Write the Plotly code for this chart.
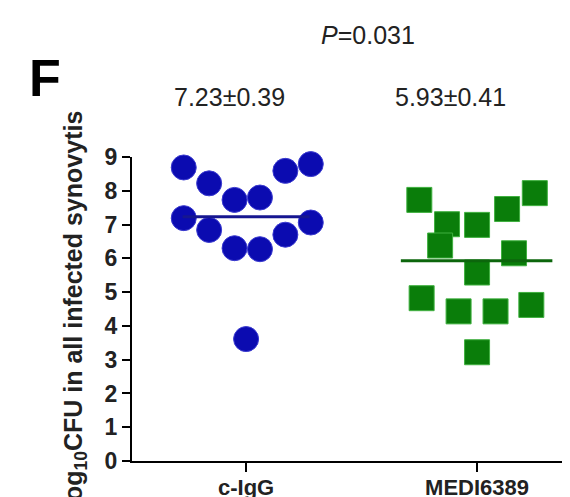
import plotly.graph_objects as go

# ---- data ----
categories = ["c-IgG", "MEDI6389"]
cigg_values = [8.69, 8.22, 7.73, 7.80, 8.59, 8.79, 7.19, 6.84, 6.30, 6.27, 6.70, 7.06, 3.61]
cigg_jitter = [-0.27, -0.16, -0.05, 0.06, 0.17, 0.28, -0.27, -0.16, -0.05, 0.06, 0.17, 0.28, 0.0]
medi_values = [7.73, 7.01, 6.38, 6.99, 7.46, 7.93, 6.15, 5.58, 4.82, 4.43, 4.43, 4.62, 3.22]
medi_jitter = [-0.25, -0.13, -0.16, 0.0, 0.13, 0.25, 0.16, 0.0, -0.24, -0.08, 0.08, 0.235, 0.0]
means = [7.23, 5.93]
sems = [0.39, 0.41]
p_value = "0.031"
y_ticks = [0, 1, 2, 3, 4, 5, 6, 7, 8, 9]

W, H = 570, 497
L, R, T, B = 124, 0, 149, 44
FONT = "Liberation Sans, Arial, sans-serif"

fig = go.Figure()

fig.add_trace(go.Scatter(
    x=[0 + j for j in cigg_jitter], y=cigg_values, mode="markers",
    marker=dict(symbol="circle", size=25, color="#0b0bb0",
                line=dict(color="#3a3ad0", width=1)),
    cliponaxis=False, showlegend=False))
fig.add_trace(go.Scatter(
    x=[1 + j for j in medi_jitter], y=medi_values, mode="markers",
    marker=dict(symbol="square", size=25, color="#0a7d0a",
                line=dict(color="#3fb03f", width=1)),
    cliponaxis=False, showlegend=False))

# mean lines
fig.add_trace(go.Scatter(x=[-0.275, 0.275], y=[means[0], means[0]], mode="lines",
                         line=dict(color="#161690", width=3), showlegend=False))
fig.add_trace(go.Scatter(x=[1 - 0.33, 1 + 0.326], y=[means[1], means[1]], mode="lines",
                         line=dict(color="#0c660c", width=3), showlegend=False))

fig.update_xaxes(
    range=[-0.494, 1.437], tickvals=[0, 1], ticktext=categories,
    showline=True, linecolor="black", linewidth=2,
    ticks="outside", ticklen=9, tickwidth=2, tickcolor="black",
    tickfont=dict(family=FONT, size=22, color="#222", weight="bold"),
    ticklabelstandoff=-3, automargin=False,
    showgrid=False, zeroline=False)
fig.update_yaxes(
    range=[0, 9], tickvals=y_ticks,
    showline=True, linecolor="black", linewidth=2,
    ticks="outside", ticklen=8, tickwidth=2, tickcolor="black",
    tickfont=dict(family=FONT, size=23, color="#222", weight="bold"),
    ticklabelstandoff=0, automargin=False,
    showgrid=False, zeroline=False)

pw = W - L - R
ph = H - T - B
def px(xp):
    return (xp - L) / pw
def py(yp):
    return (H - B - yp) / ph

ann = [
    dict(text="<b>F</b>", x=px(37), y=py(70), font=dict(size=52, family=FONT, color="black")),
    dict(text="log<sub>10</sub>CFU in all infected synovytis", x=px(67), y=py(302), textangle=-90,
         font=dict(size=25, family=FONT, color="#222", weight="bold")),
    dict(text="%.2f±%.2f" % (means[0], sems[0]), x=px(221), y=py(89),
         font=dict(size=25, family=FONT, color="#222")),
    dict(text="%.2f±%.2f" % (means[1], sems[1]), x=px(442), y=py(89),
         font=dict(size=25, family=FONT, color="#222")),
    dict(text="<i>P</i>=" + p_value, x=px(360), y=py(27),
         font=dict(size=25, family=FONT, color="#222")),
]
for a in ann:
    a.update(xref="paper", yref="paper", showarrow=False, xanchor="center", yanchor="middle")
fig.update_layout(annotations=ann)

fig.update_layout(
    width=W, height=H, margin=dict(l=L, r=R, t=T, b=B),
    plot_bgcolor="white", paper_bgcolor="white",
    font=dict(family=FONT))

fig.write_html("out.html")
